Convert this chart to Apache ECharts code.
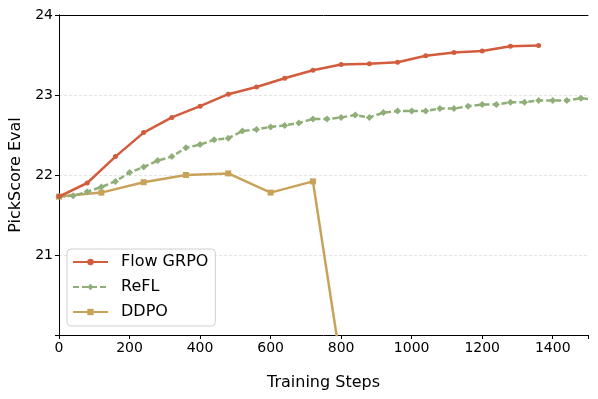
<!DOCTYPE html>
<html>
<head>
<meta charset="utf-8">
<script src="https://cdn.jsdelivr.net/npm/echarts@6/dist/echarts.min.js"></script>
<style>
  html, body { margin: 0; padding: 0; background: #fff; }
  #chart { width: 598px; height: 399px; }
</style>
</head>
<body>
<div id="chart"></div>
<script>
// data
const grpoSteps = [0, 80, 160, 240, 320, 400, 480, 560, 640, 720, 800, 880, 960, 1040, 1120, 1200, 1280, 1360];
const grpoScore = [21.73, 21.9, 22.23, 22.53, 22.72, 22.86, 23.01, 23.1, 23.21, 23.31, 23.38, 23.39, 23.41, 23.49, 23.53, 23.55, 23.61, 23.62];

const reflSteps = [0, 40, 80, 120, 160, 200, 240, 280, 320, 360, 400, 440, 480, 520, 560, 600, 640, 680, 720, 760,
    800, 840, 880, 920, 960, 1000, 1040, 1080, 1120, 1160, 1200, 1240, 1280, 1320, 1360, 1400, 1440, 1480, 1520];
const reflScore = [21.73, 21.74, 21.79, 21.85, 21.92, 22.03, 22.1, 22.18, 22.23, 22.34, 22.38, 22.44, 22.46, 22.55, 22.57, 22.6, 22.62, 22.65, 22.7, 22.7,
    22.72, 22.75, 22.72, 22.78, 22.8, 22.8, 22.8, 22.83, 22.83, 22.86, 22.88, 22.88, 22.91, 22.91, 22.93, 22.93, 22.93, 22.96, 22.94];

const ddpoSteps = [0, 120, 240, 360, 480, 600, 720, 840];
const ddpoScore = [21.73, 21.78, 21.91, 22.0, 22.02, 21.78, 21.92, 18.48];

const xTicks = [0, 200, 400, 600, 800, 1000, 1200, 1400];
const yTicks = [21, 22, 23, 24];
const yGrid = [21, 22, 23];

const pairs = (xs, ys) => xs.map((x, i) => [x, ys[i]]);

// plain frame axes for the top and right spines
const frameAxis = {
    axisLine: { show: true, lineStyle: { color: '#000', width: 1 } },
    axisTick: { show: false },
    axisLabel: { show: false },
    splitLine: { show: false }
};

let chart = echarts.init(document.getElementById('chart'));
chart.setOption({
    animation: false,
    textStyle: { fontFamily: 'DejaVu Sans' },
    grid: {
        left: 59, right: 10, top: 15, bottom: 64
    },
    legend: {
        orient: 'vertical',
        left: 67, top: 249,
        padding: [5, 7, 6, 5],
        itemWidth: 35, itemHeight: 8, itemGap: 9,
        backgroundColor: 'rgba(255,255,255,0.8)',
        borderColor: '#d0d0d0', borderWidth: 1, borderRadius: 4,
        textStyle: { fontSize: 16, color: '#000', lineHeight: 16, padding: [0, 0, 0, 8] },
        data: ['Flow GRPO', 'ReFL', 'DDPO']
    },
    xAxis: [
        {
            type: 'value',
            min: 0, max: 1500, interval: 200,
            name: 'Training Steps',
            nameLocation: 'middle', nameGap: 40,
            nameTextStyle: { fontSize: 16, color: '#000' },
            axisLine: { lineStyle: { color: '#000', width: 1 } },
            axisTick: {
                length: 4, lineStyle: { color: '#000' },
                interval: (i, v) => xTicks.includes(Number(v))
            },
            axisLabel: {
                fontSize: 14, color: '#000', margin: 6,
                formatter: v => xTicks.includes(v) ? String(v) : ''
            },
            splitLine: { show: false }
        },
        Object.assign({ type: 'value', position: 'top', min: 0, max: 1500 }, frameAxis)
    ],
    yAxis: [
        {
            type: 'value',
            min: 20, max: 24, interval: 1,
            name: 'PickScore Eval',
            nameLocation: 'middle', nameGap: 32,
            nameTextStyle: { fontSize: 16, color: '#000' },
            axisLine: { show: true, lineStyle: { color: '#000', width: 1 } },
            axisTick: {
                show: true, length: 4, lineStyle: { color: '#000' },
                interval: (i, v) => yTicks.includes(Number(v))
            },
            axisLabel: {
                fontSize: 14, color: '#000', margin: 6,
                formatter: v => yTicks.includes(v) ? String(v) : ''
            },
            splitLine: {
                show: true,
                interval: (i, v) => yGrid.includes(Number(v)),
                lineStyle: { color: '#dddddd', type: [3, 2], width: 0.8 }
            }
        },
        Object.assign({ type: 'value', position: 'right', min: 20, max: 24 }, frameAxis)
    ],
    series: [
        {
            name: 'Flow GRPO',
            type: 'line',
            data: pairs(grpoSteps, grpoScore),
            symbol: 'circle', symbolSize: 5,
            lineStyle: { color: '#d25c3c', width: 2.5 },
            itemStyle: { color: '#d25c3c' },
            z: 4
        },
        {
            name: 'ReFL',
            type: 'line',
            data: pairs(reflSteps, reflScore),
            symbol: 'diamond', symbolSize: 7,
            lineStyle: { color: '#8fae78', width: 2.5, type: [6, 3] },
            itemStyle: { color: '#8fae78' },
            z: 3
        },
        {
            name: 'DDPO',
            type: 'line',
            data: pairs(ddpoSteps, ddpoScore),
            symbol: 'rect', symbolSize: 6,
            lineStyle: { color: '#c9a25a', width: 2.5 },
            itemStyle: { color: '#c9a25a' },
            z: 2
        }
    ]
});
window.addEventListener('resize', () => {
    chart.resize();
});
</script>
</body>
</html>
